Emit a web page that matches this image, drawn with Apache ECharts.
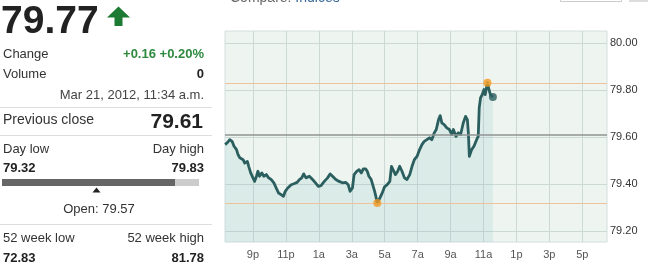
<!DOCTYPE html>
<html>
<head>
<meta charset="utf-8">
<script src="https://cdn.jsdelivr.net/npm/echarts@6/dist/echarts.min.js"></script>
<style>
html,body{margin:0;padding:0;background:#fff;}
#chart{width:655px;height:270px;}
</style>
</head>
<body>
<div id="chart"></div>
<script>
// Intraday price (hours; 21 = 9p of previous day, 35.57 = 11:34a)
var times = [19.31,19.46,19.59,19.73,19.85,20.00,20.09,20.20,20.40,20.50,20.66,20.74,20.86,21.00,21.10,21.21,21.30,21.40,21.54,21.66,21.81,21.95,22.11,22.27,22.41,22.55,22.71,22.85,22.96,23.11,23.32,23.52,23.68,23.82,23.96,24.08,24.22,24.42,24.62,24.77,24.97,25.13,25.33,25.53,25.69,25.83,26.03,26.23,26.43,26.64,26.78,26.90,27.04,27.14,27.30,27.44,27.58,27.70,27.84,27.94,28.04,28.18,28.30,28.39,28.47,28.55,28.71,28.85,28.99,29.15,29.31,29.41,29.51,29.65,29.79,29.91,30.05,30.20,30.35,30.52,30.66,30.80,30.96,31.12,31.26,31.40,31.56,31.72,31.86,32.01,32.13,32.27,32.37,32.47,32.61,32.77,32.93,33.07,33.17,33.33,33.47,33.61,33.77,33.91,34.02,34.08,34.14,34.28,34.42,34.58,34.68,34.74,34.82,34.92,35.03,35.10,35.18,35.24,35.33,35.42,35.57];
var prices = [79.568,79.578,79.589,79.582,79.561,79.547,79.526,79.512,79.504,79.490,79.497,79.476,79.448,79.427,79.412,79.434,79.455,79.434,79.448,79.434,79.441,79.427,79.420,79.406,79.384,79.363,79.356,79.349,79.370,79.384,79.398,79.403,79.408,79.420,79.427,79.444,79.427,79.434,79.420,79.408,79.391,79.394,79.412,79.427,79.444,79.434,79.420,79.412,79.406,79.408,79.398,79.370,79.384,79.441,79.455,79.462,79.448,79.465,79.465,79.455,79.434,79.420,79.391,79.370,79.346,79.320,79.342,79.363,79.389,79.398,79.412,79.476,79.469,79.441,79.455,79.476,79.455,79.427,79.420,79.441,79.476,79.504,79.518,79.547,79.568,79.582,79.589,79.597,79.589,79.618,79.632,79.674,79.691,79.660,79.653,79.639,79.632,79.611,79.632,79.603,79.618,79.611,79.660,79.688,79.674,79.618,79.518,79.547,79.561,79.589,79.603,79.724,79.766,79.780,79.802,79.780,79.809,79.830,79.802,79.780,79.770];

var xTicks = [21,23,25,27,29,31,33,35,37,39,41];
var xTickLabels = ['9p','11p','1a','3a','5a','7a','9a','11a','1p','3p','5p'];
var yTicks = [79.2,79.4,79.6,79.8,80.0];

var prevClose = 79.61;
var dayLow = 79.32, dayHigh = 79.83;
var lowPoint = [28.55, 79.32];
var highPoint = [35.24, 79.83];
var lastPoint = [35.57, 79.77];

var quote = {
  last: '79.77', change: '+0.16 +0.20%', volume: '0',
  date: 'Mar 21, 2012, 11:34 a.m.', prev: '79.61',
  low: '79.32', high: '79.83', open: 'Open: 79.57',
  wkLow: '72.83', wkHigh: '81.78'
};

var series = times.map(function(t,i){ return [t, prices[i]]; });

var FONT = '"Liberation Sans", Arial, sans-serif';
function txt(x, y, text, opts) {
  opts = opts || {};
  return {
    type: 'text', x: x, y: y, silent: true,
    style: {
      text: text,
      font: (opts.weight || 'normal') + ' ' + (opts.size || 13) + 'px ' + FONT,
      fill: opts.color || '#333',
      align: opts.align || 'left',
      verticalAlign: 'middle'
    }
  };
}
function hline(y, x1, x2, color) {
  return { type: 'line', silent: true, shape: {x1:x1, y1:y, x2:x2, y2:y}, style: {stroke: color || '#dddddd', lineWidth: 1} };
}

var chart = echarts.init(document.getElementById('chart'), null, {renderer: 'canvas'});
chart.setOption({
  animation: false,
  backgroundColor: '#ffffff',
  grid: {
    left: 225, top: 31, right: 48, bottom: 28,
    show: true, backgroundColor: '#eef5f0', borderColor: '#d2dede', borderWidth: 1,
    containLabel: false, outerBoundsMode: 'none'
  },
  xAxis: {
    type: 'value', min: 19.3, max: 42.5,
    axisLine: {show: false},
    axisTick: {show: false, customValues: xTicks},
    axisLabel: {
      customValues: xTicks, margin: 7, color: '#555', fontSize: 11, fontFamily: FONT,
      formatter: function(v){ var i = xTicks.indexOf(v); return i >= 0 ? xTickLabels[i] : ''; }
    },
    splitLine: {show: true, lineStyle: {color: '#cdd9d5', width: 1}}
  },
  yAxis: {
    type: 'value', position: 'right', min: 79.155, max: 80.05,
    axisLine: {show: false},
    axisTick: {show: false, customValues: yTicks},
    axisLabel: {
      customValues: yTicks, margin: 3, color: '#333', fontSize: 11, fontFamily: FONT,
      formatter: function(v){ return v.toFixed(2); }
    },
    splitLine: {show: true, lineStyle: {color: '#cdd9d5', width: 1}}
  },
  series: [
    {
      type: 'line', data: series, showSymbol: false, z: 3,
      lineStyle: {color: '#2b5f5f', width: 2.8, join: 'round'},
      areaStyle: {color: 'rgba(130,193,196,0.25)', origin: 'start'},
      markLine: {
        silent: true, symbol: 'none', label: {show: false},
        data: [
          {yAxis: dayHigh, lineStyle: {color: '#efc39a', width: 1, type: 'solid'}},
          {yAxis: dayLow, lineStyle: {color: '#efc39a', width: 1, type: 'solid'}},
          {yAxis: prevClose, lineStyle: {color: '#8f9393', width: 1.5, type: 'solid'}}
        ]
      }
    },
    {
      type: 'scatter', data: [lowPoint, highPoint], symbolSize: 8, z: 5,
      itemStyle: {color: '#f39a22'}
    },
    {
      type: 'scatter', data: [lastPoint], symbolSize: 8, z: 5,
      itemStyle: {color: '#2b5f5f'}
    }
  ],
  graphic: [
    // top compare text (mostly cut off)
    {
      type: 'text', x: 230, y: -2, silent: true,
      style: {
        text: '{a|Compare: }{b|Indices}', verticalAlign: 'middle',
        rich: {
          a: {font: 'normal 14px ' + FONT, fill: '#666'},
          b: {font: 'normal 14px ' + FONT, fill: '#3a6a9a'}
        }
      }
    },
    {type: 'rect', silent: true, shape: {x: 560.5, y: -10, width: 61, height: 11.5}, style: {fill: '#fff', stroke: '#cccccc', lineWidth: 1}},
    {type: 'rect', silent: true, shape: {x: 629, y: -10, width: 19, height: 12}, style: {fill: '#dddddd'}},

    // left quote panel
    txt(1, 22, quote.last, {size: 39, weight: 'bold', color: '#222'}),
    {
      type: 'polygon', silent: true,
      shape: {points: [[107,17.5],[118.5,6.5],[130,17.5],[122.5,17.5],[122.5,26],[114.5,26],[114.5,17.5]]},
      style: {fill: '#1c7a33'}
    },
    txt(3, 54, 'Change', {size: 13}),
    txt(204, 54, quote.change, {size: 13, weight: 'bold', color: '#2e8a3e', align: 'right'}),
    txt(3, 74, 'Volume', {size: 13}),
    txt(204, 74, quote.volume, {size: 13, weight: 'bold', color: '#222', align: 'right'}),
    txt(204, 95, quote.date, {size: 13, color: '#444', align: 'right'}),
    hline(107.5, 0, 212),
    txt(3, 120, 'Previous close', {size: 14}),
    txt(203, 122, quote.prev, {size: 21, weight: 'bold', color: '#222', align: 'right'}),
    hline(135.5, 0, 212),
    txt(3, 149, 'Day low', {size: 13}),
    txt(204, 149, 'Day high', {size: 13, align: 'right'}),
    txt(3, 168, quote.low, {size: 13, weight: 'bold', color: '#222'}),
    txt(204, 168, quote.high, {size: 13, weight: 'bold', color: '#222', align: 'right'}),
    {type: 'rect', silent: true, shape: {x: 2, y: 179, width: 173, height: 7}, style: {fill: '#666666'}},
    {type: 'rect', silent: true, shape: {x: 175, y: 179, width: 24, height: 7}, style: {fill: '#cccccc'}},
    {type: 'polygon', silent: true, shape: {points: [[96.5,187.5],[92.5,192.5],[100.5,192.5]]}, style: {fill: '#222'}},
    txt(99, 209, quote.open, {size: 13, align: 'center'}),
    hline(224.5, 0, 212),
    txt(3, 238, '52 week low', {size: 13}),
    txt(204, 238, '52 week high', {size: 13, align: 'right'}),
    txt(3, 258, quote.wkLow, {size: 13, weight: 'bold', color: '#222'}),
    txt(204, 258, quote.wkHigh, {size: 13, weight: 'bold', color: '#222', align: 'right'})
  ]
});
</script>
</body>
</html>
